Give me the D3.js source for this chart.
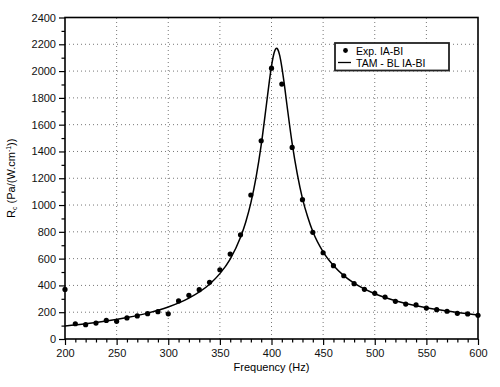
<!DOCTYPE html>
<html>
<head>
<meta charset="utf-8">
<title>Rc vs frequency</title>
<script src="https://d3js.org/d3.v7.min.js"></script>
<style>
  body { margin: 0; background: #fff; }
  svg { font-family: "Liberation Sans", Arial, sans-serif; }
  .axis text { font-size: 11px; fill: #111; }
  .axis line { stroke: #000; stroke-width: 1.2; }
  .axis path { display: none; }
  .grid line { stroke: #777; stroke-width: 1; stroke-dasharray: 1,3; }
</style>
</head>
<body>
<script>
// measured points (Exp. IA-BI)
var expFreq = [200,210,220,230,240,250,260,270,280,290,300,310,320,330,340,350,360,370,380,390,
               400,410,420,430,440,450,460,470,480,490,500,510,520,530,540,550,560,570,580,590,600];
var expVal  = [370,114,107,119,139,132,157,172,189,204,188,284,326,368,423,517,634,778,1075,1480,
               2022,1903,1430,1040,796,644,547,472,413,371,341,313,281,261,254,231,219,207,192,187,177];

// model curve (TAM - BL IA-BI)
var tamFreq = [200,220,240,260,280,300,320,340,350,360,370,375,380,385,390,395,398,400,402,404,405,
               406,408,410,412,415,420,425,430,435,440,450,460,470,480,500,520,540,560,580,600];
var tamVal  = [97,113,134,160,193,239,305,409,488,597,759,872,1016,1204,1447,1745,1929,2037,2120,2165,2170,
               2163,2115,2030,1925,1745,1460,1230,1048,912,802,650,548,473,417,338,286,248,220,198,179];

var xTicks = [200,250,300,350,400,450,500,550,600];
var yTicks = [0,200,400,600,800,1000,1200,1400,1600,1800,2000,2200,2400];

var W = 500, H = 387;
var m = {left: 65, right: 22, top: 17.5, bottom: 48};

var svg = d3.select("body").append("svg")
  .attr("width", W)
  .attr("height", H);

var x = d3.scaleLinear().domain([200, 600]).range([m.left, W - m.right]);
var y = d3.scaleLinear().domain([0, 2400]).range([H - m.bottom, m.top]);

// dotted grid
svg.append("g").attr("class", "grid")
  .selectAll("line").data(xTicks.slice(1, -1)).enter().append("line")
  .attr("x1", d => x(d)).attr("x2", d => x(d))
  .attr("y1", y(0)).attr("y2", y(2400));
svg.append("g").attr("class", "grid")
  .selectAll("line").data(yTicks.slice(1, -1)).enter().append("line")
  .attr("x1", x(200)).attr("x2", x(600))
  .attr("y1", d => y(d)).attr("y2", d => y(d));

// minor ticks
var xMinor = d3.range(200, 601, 10).filter(d => d % 50 != 0);
var yMinor = d3.range(100, 2400, 200);

svg.append("g").attr("class", "axis")
  .attr("transform", "translate(0," + y(0) + ")")
  .call(d3.axisBottom(x).tickValues(xMinor).tickSize(3.5).tickFormat(""));
svg.append("g").attr("class", "axis")
  .attr("transform", "translate(" + x(200) + ",0)")
  .call(d3.axisLeft(y).tickValues(yMinor).tickSize(3.5).tickFormat(""));

// major axes
svg.append("g").attr("class", "axis")
  .attr("transform", "translate(0," + y(0) + ")")
  .call(d3.axisBottom(x).tickValues(xTicks).tickSize(6).tickPadding(4).tickFormat(d3.format("d")));
svg.append("g").attr("class", "axis")
  .attr("transform", "translate(" + x(200) + ",0)")
  .call(d3.axisLeft(y).tickValues(yTicks).tickSize(6).tickPadding(3).tickFormat(d3.format("d")));

// frame
svg.append("rect")
  .attr("x", x(200)).attr("y", y(2400))
  .attr("width", x(600) - x(200)).attr("height", y(0) - y(2400))
  .attr("fill", "none").attr("stroke", "#000").attr("stroke-width", 1.6);

// curve
var line = d3.line()
  .x((d, i) => x(tamFreq[i]))
  .y(d => y(d))
  .curve(d3.curveMonotoneX);
svg.append("path")
  .datum(tamVal)
  .attr("d", line)
  .attr("fill", "none")
  .attr("stroke", "#000")
  .attr("stroke-width", 1.5);

// points
svg.append("g").selectAll("circle")
  .data(expVal).enter().append("circle")
  .attr("cx", (d, i) => x(expFreq[i]))
  .attr("cy", d => y(d))
  .attr("r", 2.6)
  .attr("fill", "#000");

// axis titles
svg.append("text")
  .attr("x", (x(200) + x(600)) / 2)
  .attr("y", 371)
  .attr("text-anchor", "middle")
  .attr("font-size", "11px")
  .text("Frequency (Hz)");

var yt = svg.append("text")
  .attr("transform", "translate(15," + ((y(0) + y(2400)) / 2) + ") rotate(-90)")
  .attr("text-anchor", "middle")
  .attr("font-size", "11px");
yt.append("tspan").text("R");
yt.append("tspan").attr("font-size", "7px").attr("dy", 2).text("c");
yt.append("tspan").attr("dy", -2).text(" (Pa/(W.cm");
yt.append("tspan").attr("font-size", "7px").attr("dy", -4).text("-1");
yt.append("tspan").attr("dy", 4).text("))");

// legend
var lg = svg.append("g");
lg.append("rect")
  .attr("x", 335).attr("y", 43)
  .attr("width", 114).attr("height", 27.5)
  .attr("fill", "#fff").attr("stroke", "#222").attr("stroke-width", 1.8);
lg.append("circle").attr("cx", 345.5).attr("cy", 50.5).attr("r", 2.4).attr("fill", "#000");
lg.append("text").attr("x", 356).attr("y", 54.5).attr("font-size", "10.5px").text("Exp. IA-BI");
lg.append("line").attr("x1", 338).attr("x2", 351).attr("y1", 62.5).attr("y2", 62.5)
  .attr("stroke", "#000").attr("stroke-width", 1.3);
lg.append("text").attr("x", 356).attr("y", 66.5).attr("font-size", "10.5px").text("TAM - BL IA-BI");
</script>
</body>
</html>
